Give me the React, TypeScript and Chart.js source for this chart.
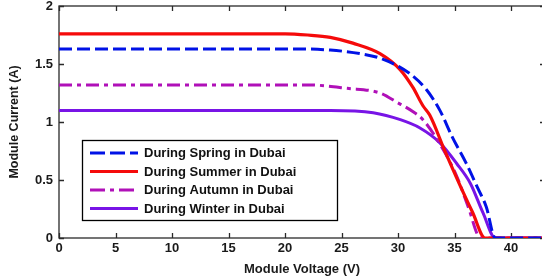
import React, { useEffect, useRef } from "react";
import { Chart, registerables } from "chart.js";

Chart.register(...registerables);

// Data (Module Voltage in V, Module Current in A)
const voltageSpring = [0, 21, 24, 26.6, 28.4, 31.0, 32.5, 33.7, 34.8, 36.0, 37.0, 37.8, 38.6, 43];
const currentSpring = [1.63, 1.63, 1.62, 1.59, 1.55, 1.42, 1.28, 1.1, 0.87, 0.65, 0.44, 0.27, 0, 0];

const voltageSummer = [0, 20, 22, 24, 26, 28.4, 30.2, 31.3, 32.2, 32.8, 34.1, 35.5, 36.6, 37.7, 43];
const currentSummer = [1.76, 1.76, 1.75, 1.73, 1.68, 1.59, 1.45, 1.3, 1.14, 1.06, 0.76, 0.45, 0.22, 0, 0];

const voltageAutumn = [0, 22, 25.5, 28.4, 29.9, 31.3, 32.2, 34.0, 35.2, 36.2, 37.3, 43];
const currentAutumn = [1.32, 1.32, 1.29, 1.25, 1.17, 1.09, 1.02, 0.76, 0.53, 0.27, 0, 0];

const voltageWinter = [0, 24, 27.8, 30.2, 31.9, 33.7, 35.2, 36.4, 37.5, 38.6, 43];
const currentWinter = [1.1, 1.1, 1.08, 1.02, 0.95, 0.82, 0.64, 0.47, 0.22, 0, 0];

const seriesLabels = [
  "During Spring in Dubai",
  "During Summer in Dubai",
  "During Autumn in Dubai",
  "During Winter in Dubai",
];

const xTickValues = [0, 5, 10, 15, 20, 25, 30, 35, 40];
const yTickValues = [0, 0.5, 1, 1.5, 2];

const FONT = "'Liberation Sans', Arial, sans-serif";

const toPoints = (xs: number[], ys: number[]) => xs.map((x, i) => ({ x, y: ys[i] }));

const decorPlugin = {
  id: "decor",
  beforeDatasetsDraw(chart: any) {
    const { ctx, chartArea } = chart;
    const { left, right, top, bottom } = chartArea;
    const xs = chart.scales.x;
    const ys = chart.scales.y;
    ctx.save();
    ctx.strokeStyle = "#2a2a2a";
    ctx.lineWidth = 1.3;
    ctx.strokeRect(left, top, right - left, bottom - top);
    ctx.beginPath();
    const tl = 5;
    xTickValues.forEach((v) => {
      const px = Math.round(xs.getPixelForValue(v)) + 0.5;
      ctx.moveTo(px, bottom);
      ctx.lineTo(px, bottom - tl);
      ctx.moveTo(px, top);
      ctx.lineTo(px, top + tl);
    });
    yTickValues.forEach((v) => {
      const py = Math.round(ys.getPixelForValue(v)) + 0.5;
      ctx.moveTo(left, py);
      ctx.lineTo(left + tl, py);
      ctx.moveTo(right, py);
      ctx.lineTo(right - tl, py);
    });
    ctx.stroke();
    ctx.restore();
  },
  afterDraw(chart: any) {
    const { ctx } = chart;
    const boxL = 82, boxT = 140, boxR = 337, boxB = 220;
    ctx.save();
    ctx.fillStyle = "#ffffff";
    ctx.fillRect(boxL, boxT, boxR - boxL, boxB - boxT);
    ctx.strokeStyle = "#000000";
    ctx.lineWidth = 1.3;
    ctx.strokeRect(boxL + 0.5, boxT + 0.5, boxR - boxL, boxB - boxT);
    const rows = [153, 171.5, 190, 208.5];
    chart.data.datasets.forEach((ds: any, i: number) => {
      const y = rows[i];
      ctx.beginPath();
      ctx.strokeStyle = ds.borderColor;
      ctx.lineWidth = ds.borderWidth;
      ctx.setLineDash(ds.legendDash || []);
      ctx.moveTo(90, y);
      ctx.lineTo(138, y);
      ctx.stroke();
      ctx.setLineDash([]);
      ctx.fillStyle = "#111111";
      ctx.font = `bold 13px ${FONT}`;
      ctx.textBaseline = "middle";
      ctx.textAlign = "left";
      ctx.fillText(ds.label, 144, y + 0.5);
    });
    ctx.restore();
  },
};

export default function App() {
  const canvasRef = useRef<HTMLCanvasElement | null>(null);

  useEffect(() => {
    document.body.style.margin = "0";
    const canvas = canvasRef.current;
    if (!canvas) return;
    const chart = new Chart(canvas, {
      type: "scatter",
      data: {
        datasets: [
          {
            label: seriesLabels[0],
            data: toPoints(voltageSpring, currentSpring),
            showLine: true,
            borderColor: "#0012e6",
            borderWidth: 3,
            borderDash: [13, 5],
            legendDash: [15, 5],
            pointRadius: 0,
            cubicInterpolationMode: "monotone",
          } as any,
          {
            label: seriesLabels[1],
            data: toPoints(voltageSummer, currentSummer),
            showLine: true,
            borderColor: "#f50a0a",
            borderWidth: 3.2,
            pointRadius: 0,
            cubicInterpolationMode: "monotone",
          } as any,
          {
            label: seriesLabels[2],
            data: toPoints(voltageAutumn, currentAutumn),
            showLine: true,
            borderColor: "#b010b8",
            borderWidth: 3,
            borderDash: [13, 5, 4, 5],
            legendDash: [15, 5, 4, 5],
            pointRadius: 0,
            cubicInterpolationMode: "monotone",
          } as any,
          {
            label: seriesLabels[3],
            data: toPoints(voltageWinter, currentWinter),
            showLine: true,
            borderColor: "#7814e6",
            borderWidth: 3,
            pointRadius: 0,
            cubicInterpolationMode: "monotone",
          } as any,
        ],
      },
      options: {
        animation: false,
        responsive: false,
        maintainAspectRatio: false,
        layout: { padding: { top: 6, right: 1, left: 0, bottom: 0 } },
        plugins: {
          legend: { display: false },
          tooltip: { enabled: false },
        },
        scales: {
          x: {
            type: "linear",
            min: 0,
            max: 43,
            afterFit: (s: any) => {
              s.height = 40;
              s.paddingRight = 0;
            },
            afterBuildTicks: (s: any) => {
              s.ticks = xTickValues.map((v) => ({ value: v }));
            },
            grid: { display: false, drawTicks: false },
            border: { display: false },
            ticks: {
              padding: 3,
              color: "#1a1a1a",
              font: { family: FONT, size: 13, weight: "bold" },
              maxRotation: 0,
              callback: (v: any) => String(v),
            },
            title: {
              display: true,
              text: "Module Voltage (V)",
              color: "#1a1a1a",
              font: { family: FONT, size: 13, weight: "bold" },
              padding: { top: 0, bottom: 1 },
            },
          },
          y: {
            type: "linear",
            min: 0,
            max: 2,
            afterFit: (s: any) => {
              s.width = 59;
              s.paddingTop = 0;
              s.paddingBottom = 0;
            },
            afterBuildTicks: (s: any) => {
              s.ticks = yTickValues.map((v) => ({ value: v }));
            },
            grid: { display: false, drawTicks: false },
            border: { display: false },
            ticks: {
              padding: 6,
              color: "#1a1a1a",
              font: { family: FONT, size: 13, weight: "bold" },
              callback: (v: any) => String(v),
            },
            title: {
              display: true,
              text: "Module Current (A)",
              color: "#1a1a1a",
              font: { family: FONT, size: 12.5, weight: "bold" },
              padding: { top: 7, bottom: 0 },
            },
          },
        },
      } as any,
      plugins: [decorPlugin],
    });
    return () => chart.destroy();
  }, []);

  return (
    <div style={{ width: 542, height: 278, overflow: "hidden", position: "relative", background: "#fff" }}>
      <canvas ref={canvasRef} width={546} height={278} style={{ display: "block", width: 546, height: 278 }} />
    </div>
  );
}
